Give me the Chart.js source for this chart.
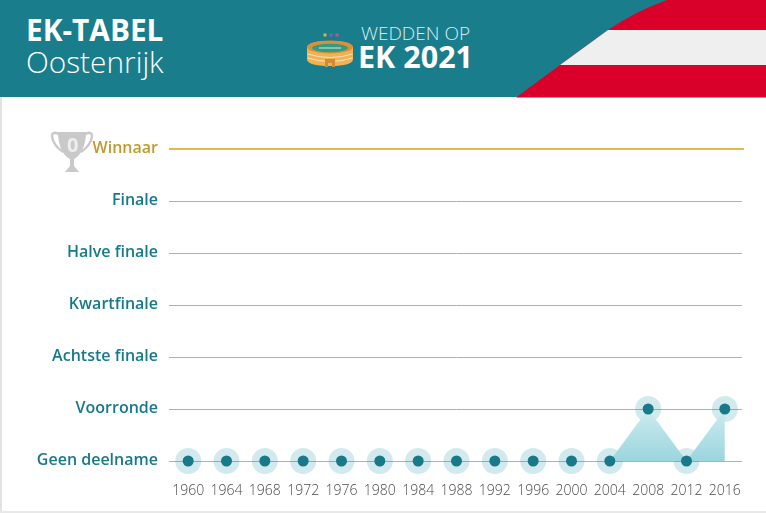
<!DOCTYPE html>
<html>
<head>
<meta charset="utf-8">
<title>EK-tabel Oostenrijk</title>
<script src="https://cdn.jsdelivr.net/npm/chart.js@4/dist/chart.umd.min.js"></script>
<style>
  html, body { margin: 0; padding: 0; background: #fff; }
  body { width: 766px; height: 513px; overflow: hidden; position: relative; font-family: "Open Sans", sans-serif; }
  #salesChart { position: absolute; left: 0; top: 0; }
  .frame-l { position: absolute; left: 0; top: 97px; width: 2px; height: 416px; background: #e3e3e3; }
  .frame-b { position: absolute; left: 0; top: 511px; width: 766px; height: 2px; background: #e8e8e8; }
  /* grey lines stop just short of the gold one */
  .line-end { position: absolute; left: 742px; top: 190px; width: 3px; height: 280px; background: #fff; }
  .txt { position: absolute; white-space: nowrap; color: #fff; line-height: 1; }
  svg { position: absolute; }
</style>
</head>
<body>
<canvas id="salesChart" width="766" height="513"></canvas>
<div class="line-end"></div>
<div class="frame-l"></div>
<div class="frame-b"></div>

<!-- Header -->
<svg style="left:0;top:0" width="766" height="98" viewBox="0 0 766 98">
  <rect width="766" height="97" fill="#1a7d8c"/>
  <clipPath id="flagClip"><path d="M516 97.5 L560 65 L608 30 Q636 11 667 0 L766 0 L766 97.5 Z"/></clipPath>
  <g clip-path="url(#flagClip)">
    <rect x="500" y="0" width="266" height="98" fill="#d9002a"/>
    <rect x="500" y="30" width="266" height="35" fill="#efefef"/>
  </g>
</svg>
<div class="txt" style="left:26px;top:15px;font-size:29.8px;font-weight:700">EK-TABEL</div>
<div class="txt" style="left:26px;top:47px;font-size:29.8px;font-weight:300">Oostenrijk</div>
<div class="txt" style="left:361px;top:24px;font-size:19px;font-weight:300;color:#d5eef2">WEDDEN OP</div>
<div class="txt" style="left:358px;top:41px;font-size:30.5px;font-weight:700">EK 2021</div>

<!-- Stadium -->
<svg style="left:305px;top:30px" width="50" height="40" viewBox="0 0 50 40">
  <rect x="18.5" y="3.5" width="3" height="3" fill="#d9b24c"/>
  <rect x="24.5" y="3.5" width="3" height="3" fill="#8a5fa8"/>
  <rect x="30.5" y="3.5" width="3" height="3" fill="#d0507a"/>
  <path d="M2 18 Q2 11 25 11 Q48 11 48 18 L48 29 Q48 36 25 36 Q2 36 2 29 Z" fill="#f0b253"/>
  <ellipse cx="25" cy="17" rx="23" ry="6.5" fill="#e08e32"/>
  <ellipse cx="25" cy="18" rx="18" ry="4.2" fill="#2f9c83"/>
  <path d="M14 18 H36" stroke="#fff" stroke-width="0.8"/>
  <path d="M2.5 24 Q25 31 47.5 24 M2.5 28 Q25 35 47.5 28" stroke="#fbe3b6" stroke-width="1" fill="none"/>
  <path d="M20 37 V29 H30 V37 H27 V33 H23 V37 Z" fill="#d28a33"/>
</svg>

<!-- Trophy -->
<svg style="left:50px;top:127px" width="44" height="46" viewBox="0 0 44 46">
  <path d="M10 8 C-2 0 0 16 13 25 M34 8 C46 0 44 16 31 25" stroke="#c9c9c9" stroke-width="2.4" fill="none"/>
  <path d="M8 5 H36 C36 18 31 29 24 32 L24 39 L29 45 H15 L20 39 L20 32 C13 29 8 18 8 5 Z" fill="#c9c9c9"/>
</svg>
<div class="txt" style="left:67px;top:135px;font-size:20px;font-weight:700;color:#eee">0</div>

<script>
const years = ["1960", "1964", "1968", "1972", "1976", "1980", "1984", "1988", "1992", "1996", "2000", "2004", "2008", "2012", "2016"];
const rounds = ["Geen deelname", "Voorronde", "Achtste finale", "Kwartfinale", "Halve finale", "Finale", "Winnaar"];
const results = [0, 0, 0, 0, 0, 0, 0, 0, 0, 0, 0, 0, 1, 0, 1];

const teal = "#17798a";
const gold = "#c09a2f";

// Area under the line, lighter at the top
function areaFill(context) {
  const chart = context.chart;
  if (!chart.chartArea) return "#b5e0e6";
  const y = chart.scales.y;
  const g = chart.ctx.createLinearGradient(0, y.getPixelForValue(1), 0, y.getPixelForValue(0));
  g.addColorStop(0, "#cdecf0");
  g.addColorStop(1, "#9bd5dd");
  return g;
}

const ctx = document.getElementById("salesChart");
const myChart = new Chart(ctx, {
  type: "line",
  data: {
    labels: years,
    datasets: [
      {
        label: "Resultaat",
        data: results,
        order: 1,
        clip: false,
        tension: 0,
        borderWidth: 0,
        borderColor: "transparent",
        fill: "origin",
        backgroundColor: areaFill,
        pointRadius: 5.5,
        pointBorderWidth: 0,
        pointBackgroundColor: teal,
      },
      {
        label: "Halo",
        data: results,
        order: 2,
        clip: false,
        showLine: false,
        fill: false,
        pointRadius: 13,
        pointBorderWidth: 0,
        pointBackgroundColor: "rgba(30, 150, 170, 0.2)",
      },
    ],
  },
  options: {
    responsive: false,
    animation: false,
    layout: { padding: { left: 0, top: 149, right: 22, bottom: 0 } },
    plugins: { legend: { display: false }, tooltip: { enabled: false } },
    scales: {
      x: {
        offset: true,
        grid: { display: false },
        border: { display: false },
        afterFit: (scale) => { scale.height = 52; },
        ticks: {
          color: "#4a4a4a",
          padding: 14,
          maxRotation: 0,
          autoSkip: false,
          font: { family: "Open Sans", size: 14, weight: 300 },
        },
      },
      y: {
        min: 0,
        max: 6,
        afterFit: (scale) => { scale.width = 169; },
        border: { display: false },
        grid: {
          drawTicks: false,
          color: (c) => (c.tick.value === 6 ? "#e0b94f" : "#b0b0b0"),
          lineWidth: (c) => (c.tick.value === 6 ? 2 : 1),
        },
        ticks: {
          stepSize: 1,
          padding: 11,
          // empty second line lifts the label a little above its grid line
          callback: (v) => [rounds[v], ""],
          color: (c) => (c.tick.value === 6 ? gold : teal),
          font: { family: "Open Sans", size: 16, weight: 600, lineHeight: 0.125 },
        },
      },
    },
  },
});
</script>
</body>
</html>
